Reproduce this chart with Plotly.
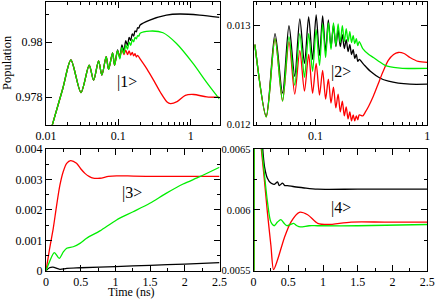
import plotly.graph_objects as go
import math

# ---------------- data: |1> (top-left, log time) ----------------
tl_black_t = [0.01, 0.017, 0.0221, 0.0304, 0.0395, 0.0455, 0.0533, 0.0592, 0.0679, 0.0733, 0.0832, 0.0887,
              0.0975, 0.1048, 0.112, 0.1193, 0.1265, 0.1338, 0.141, 0.1483, 0.1555, 0.1628, 0.170, 0.1773,
              0.1845, 0.1918, 0.2, 0.272, 0.462, 0.705, 1.33, 2.5]
tl_black_v = [0.9762, 0.9783, 0.97935, 0.97817, 0.97916, 0.97862, 0.97932, 0.9788, 0.97947, 0.97901, 0.97961, 0.97916,
              0.97972, 0.97944, 0.9799, 0.97967, 0.98005, 0.97988, 0.98017, 0.98006, 0.9803, 0.98022, 0.98041, 0.98037,
              0.98052, 0.98051, 0.98062, 0.9808, 0.98098, 0.98102, 0.98098, 0.9809]

tl_green_t = [0.01, 0.017, 0.0221, 0.0304, 0.0395, 0.0455, 0.0533, 0.0592, 0.0679, 0.0733, 0.0832, 0.0887,
              0.0975, 0.1048, 0.112, 0.1193, 0.1265, 0.1338, 0.141, 0.1483, 0.1555, 0.1628, 0.170, 0.1773,
              0.1845, 0.1918, 0.2, 0.272, 0.415, 0.636, 1.077, 1.64, 2.5]
tl_green_v = [0.9762, 0.9783, 0.97935, 0.97817, 0.97916, 0.97862, 0.97932, 0.9788, 0.97947, 0.97901, 0.97961, 0.97916,
              0.97969, 0.97939, 0.97981, 0.97958, 0.9799, 0.97975, 0.98, 0.97988, 0.98009, 0.98001, 0.98017, 0.98012,
              0.98023, 0.98022, 0.98032, 0.9804, 0.98034, 0.97995, 0.97923, 0.97856, 0.97793]

tl_red_t = [0.01, 0.017, 0.0221, 0.0304, 0.0395, 0.0455, 0.0533, 0.0592, 0.0679, 0.0733, 0.0832, 0.0887,
            0.0975, 0.1048, 0.112, 0.1193, 0.1265, 0.1338, 0.141, 0.1483, 0.1555, 0.1628, 0.170, 0.1773,
            0.1845, 0.202, 0.249, 0.308, 0.381, 0.471, 0.524, 0.647, 0.843, 1.1, 1.67, 2.5]
tl_red_v = [0.9762, 0.9783, 0.97935, 0.97817, 0.97916, 0.97862, 0.97932, 0.9788, 0.97947, 0.97901, 0.97961, 0.97916,
            0.97968, 0.97948, 0.97972, 0.97955, 0.97971, 0.97955, 0.97968, 0.97953, 0.97963, 0.9795, 0.97958, 0.97946,
            0.97952, 0.97937, 0.97902, 0.97861, 0.97818, 0.97783, 0.97777, 0.97784, 0.97807, 0.9781, 0.97801, 0.978]

# ---------------- data: |2> (top-right, log time) ----------------
tr_osc_t = [0.0288, 0.0364, 0.0436, 0.0509, 0.0581, 0.0654, 0.0726, 0.0799, 0.0871, 0.0944, 0.1016, 0.1089,
            0.1161, 0.1234, 0.1306, 0.1379, 0.1451, 0.1524, 0.1596, 0.1669, 0.1741, 0.1814, 0.1886, 0.1959,
            0.2031, 0.2104, 0.2176, 0.2249, 0.2321, 0.2394, 0.2466]

tr_black_t = tr_osc_t + [0.27, 0.31, 0.38, 0.45, 0.55, 0.7, 1.0]
tr_black_v = [0.01281, 0.01209, 0.01292, 0.01232, 0.0130, 0.01249, 0.01307, 0.01262, 0.01309, 0.01266, 0.01311, 0.0127,
              0.0131, 0.01274, 0.01306, 0.01278, 0.01301, 0.01279, 0.01296, 0.01279, 0.01291, 0.01277, 0.01286, 0.01274,
              0.01281, 0.01271, 0.01276, 0.01267, 0.01271, 0.01264, 0.01266,
              0.01261, 0.01254, 0.01247, 0.01244, 0.01242, 0.01241, 0.01241]

tr_green_t = tr_osc_t + [0.265, 0.3, 0.33, 0.37, 0.42, 0.5, 0.6, 1.0]
tr_green_v = [0.01281, 0.01208, 0.01287, 0.01224, 0.01289, 0.0124, 0.01292, 0.01248, 0.01292, 0.01254, 0.01296, 0.0126,
              0.01302, 0.01268, 0.01303, 0.01276, 0.01303, 0.0128, 0.01302, 0.01283, 0.013, 0.01284, 0.01297, 0.01284,
              0.01294, 0.01283, 0.0129, 0.01282, 0.01287, 0.0128, 0.01284,
              0.01277, 0.01271, 0.01268, 0.01264, 0.0126, 0.01258, 0.01257, 0.01257]

tr_red_t = tr_osc_t + [0.265, 0.28, 0.3, 0.33, 0.366, 0.4, 0.448, 0.5, 0.55, 0.62, 0.7, 0.83, 1.0]
tr_red_v = [0.01281, 0.01208, 0.01287, 0.01224, 0.01284, 0.01231, 0.01275, 0.01234, 0.01271, 0.01232, 0.01262, 0.0123,
            0.01255, 0.01226, 0.01246, 0.01222, 0.01238, 0.01217, 0.01231, 0.01213, 0.01224, 0.01209, 0.01218, 0.01206,
            0.01213, 0.01204, 0.0121, 0.01204, 0.01209, 0.01205, 0.0121,
            0.01209, 0.01213, 0.01219, 0.01229, 0.01242, 0.01253, 0.01265, 0.01271, 0.01273, 0.01272, 0.01268,
            0.01264, 0.01263]

# ---------------- data: |3> (bottom-left, linear time) ----------------
bl_black_t = [0, 0.05, 0.1, 0.2, 0.3, 0.5, 1.0, 1.5, 2.0, 2.5]
bl_black_v = [0, 0.0001, 0.00012, 0.00005, 0.00008, 0.0001, 0.00014, 0.00018, 0.00022, 0.00027]

bl_red_t = [0, 0.05, 0.105, 0.15, 0.201, 0.25, 0.298, 0.355, 0.44, 0.5, 0.561, 0.62, 0.681, 0.777, 0.9,
            1.017, 1.26, 1.6, 2.0, 2.5]
bl_red_v = [0, 0.0007, 0.0014, 0.0021, 0.00282, 0.00327, 0.00353, 0.00362, 0.00353, 0.00335, 0.0032, 0.0031,
            0.00304, 0.00304, 0.0031, 0.00312, 0.00311, 0.0031, 0.0031, 0.0031]

bl_green_t = [0, 0.05, 0.12, 0.19, 0.25, 0.298, 0.393, 0.489, 0.585, 0.777, 1.017, 1.256, 1.496, 1.736,
              1.976, 2.216, 2.5]
bl_green_v = [0, 0.0003, 0.0006, 0.00041, 0.00062, 0.00074, 0.00079, 0.0009, 0.00107, 0.00131, 0.00167,
              0.00194, 0.00222, 0.00255, 0.00285, 0.00309, 0.0034]

# ---------------- data: |4> (bottom-right, linear time) ----------------
br_black_t = [0, 0.01, 0.05, 0.1, 0.12, 0.14, 0.16, 0.2, 0.25, 0.3, 0.346, 0.37, 0.418, 0.45, 0.49, 0.587,
              0.731, 0.92, 1.5, 2.5]
br_black_v = [0, 0.0075, 0.0071, 0.0067, 0.0066, 0.00645, 0.00635, 0.00626, 0.00622, 0.00621, 0.00623, 0.0062,
              0.00622, 0.0062, 0.0062, 0.00619, 0.00618, 0.00617, 0.00617, 0.00617]

br_red_t = [0, 0.01, 0.03, 0.06, 0.08, 0.154, 0.2, 0.25, 0.289, 0.346, 0.443, 0.538, 0.659, 0.779, 0.924,
            1.068, 1.404, 1.885, 2.5]
br_red_v = [0, 0.0068, 0.0072, 0.0069, 0.0067, 0.00626, 0.00598, 0.00571, 0.00551, 0.00559, 0.00577, 0.0059,
            0.00598, 0.00596, 0.00589, 0.00588, 0.0059, 0.0059, 0.0059]

br_green_t = [0, 0.01, 0.03, 0.06, 0.1, 0.154, 0.2, 0.25, 0.298, 0.345, 0.394, 0.44, 0.481, 0.53, 0.577,
              0.625, 0.674, 0.8, 0.92, 1.5, 2.5]
br_green_v = [0, 0.0068, 0.0071, 0.0068, 0.0066, 0.00631, 0.00607, 0.0059, 0.00587, 0.0059, 0.00592, 0.00589,
              0.00587, 0.00588, 0.00589, 0.00587, 0.00586, 0.00587, 0.00587, 0.00587, 0.00588]

# ---------------- tick labels ----------------
tl_xticks = [0.01, 0.1, 1]
tl_xtext = ["0.01", "0.1", "1"]
tl_yticks = [0.978, 0.98]
tl_ytext = ["0.978", "0.98"]
tr_xticks = [0.1, 1]
tr_xtext = ["0.1", "1"]
tr_yticks = [0.012, 0.013]
tr_ytext = ["0.012", "0.013"]
lin_xticks = [0, 0.5, 1, 1.5, 2, 2.5]
lin_xtext = ["0", "0.5", "1", "1.5", "2", "2.5"]
bl_yticks = [0, 0.001, 0.002, 0.003, 0.004]
bl_ytext = ["0", "0.001", "0.002", "0.003", "0.004"]
br_yticks = [0.0055, 0.006, 0.0065]
br_ytext = ["0.0055", "0.006", "0.0065"]

BLACK = "#000000"
RED = "#ff0000"
GREEN = "#00ee00"
FONT = "Liberation Serif, Times New Roman, serif"
LW = 1.3

W, H = 436, 299
def px_x(a, b):
    return [a / W, b / W]
def px_y(top, bottom):
    return [(H - bottom) / H, (H - top) / H]

fig = go.Figure()

def add(t, v, color, xa, ya):
    fig.add_trace(go.Scatter(x=t, y=v, mode="lines", xaxis=xa, yaxis=ya,
                             line=dict(color=color, width=LW, shape="spline", smoothing=0.8),
                             showlegend=False, hoverinfo="skip"))

for (t, v, c) in [(tl_black_t, tl_black_v, BLACK), (tl_red_t, tl_red_v, RED), (tl_green_t, tl_green_v, GREEN)]:
    add(t, v, c, "x", "y")
for (t, v, c) in [(tr_black_t, tr_black_v, BLACK), (tr_red_t, tr_red_v, RED), (tr_green_t, tr_green_v, GREEN)]:
    add(t, v, c, "x2", "y2")
for (t, v, c) in [(bl_black_t, bl_black_v, BLACK), (bl_red_t, bl_red_v, RED), (bl_green_t, bl_green_v, GREEN)]:
    add(t, v, c, "x3", "y3")
for (t, v, c) in [(br_black_t, br_black_v, BLACK), (br_red_t, br_red_v, RED), (br_green_t, br_green_v, GREEN)]:
    add(t, v, c, "x4", "y4")

def axis(domain, rng, tickvals, ticktext, minor_vals, anchor, typ="linear", fsize=12):
    return dict(domain=domain, range=rng, type=typ, anchor=anchor, automargin=False,
                tickmode="array", tickvals=tickvals, ticktext=ticktext,
                ticks="inside", ticklen=6, tickwidth=1, tickcolor="black",
                showline=True, linecolor="black", linewidth=1, mirror="ticks",
                showgrid=False, zeroline=False,
                tickfont=dict(family=FONT, size=fsize, color="black"),
                minor=dict(tickmode="array", tickvals=minor_vals, ticks="inside",
                           ticklen=3, tickwidth=1, tickcolor="black", showgrid=False))

dec_minor_tl = [0.02, 0.03, 0.04, 0.05, 0.06, 0.07, 0.08, 0.09,
                0.2, 0.3, 0.4, 0.5, 0.6, 0.7, 0.8, 0.9, 2]
dec_minor_tr = [0.03, 0.04, 0.05, 0.06, 0.07, 0.08, 0.09,
                0.2, 0.3, 0.4, 0.5, 0.6, 0.7, 0.8, 0.9]

left_x = px_x(46, 219.5)
right_x = px_x(253.5, 427.3)
top_y = px_y(2, 124.8)
bot_y = px_y(149, 270.8)

fig.update_layout(
    template="none",
    width=W, height=H, margin=dict(l=0, r=0, t=0, b=0, autoexpand=False),
    paper_bgcolor="white", plot_bgcolor="white",
    xaxis=axis(left_x, [-2, math.log10(2.5)], tl_xticks, tl_xtext, dec_minor_tl, "y", "log"),
    yaxis=axis(top_y, [0.977, 0.981455], tl_yticks, tl_ytext, [0.977, 0.979, 0.981], "x"),
    xaxis2=axis(right_x, [math.log10(0.028), 0], tr_xticks, tr_xtext, dec_minor_tr, "y2", "log"),
    yaxis2=axis(top_y, [0.012, 0.01324], tr_yticks, tr_ytext, [0.0125], "x2", fsize=10.5),
    xaxis3=axis(left_x, [0, 2.5], lin_xticks, lin_xtext, [0.25, 0.75, 1.25, 1.75, 2.25], "y3"),
    yaxis3=axis(bot_y, [0, 0.004], bl_yticks, bl_ytext, [0.0005, 0.0015, 0.0025, 0.0035], "x3"),
    xaxis4=axis(right_x, [0, 2.5], lin_xticks, lin_xtext, [0.25, 0.75, 1.25, 1.75, 2.25], "y4"),
    yaxis4=axis(bot_y, [0.0055, 0.0065], br_yticks, br_ytext, [0.00575, 0.00625], "x4", fsize=10.5),
)

def ann(text, x, y, size, angle=0, xanchor="center", yanchor="middle"):
    fig.add_annotation(text=text, x=x / W, y=(H - y) / H, xref="paper", yref="paper",
                       showarrow=False, textangle=angle, xanchor=xanchor, yanchor=yanchor,
                       borderpad=0, borderwidth=0,
                       font=dict(family=FONT, size=size, color="black"))

ann("|1>", 126.7, 81.7, 16)
ann("|2>", 341, 72, 16)
ann("|3>", 131.7, 192.7, 16)
ann("|4>", 341.3, 208.3, 16)
ann("Population", 0, 63, 12.5, -90, xanchor="left")
ann("Time (ns)", 131.7, 299, 12, yanchor="bottom")

fig.write_html("out.html", config={"displayModeBar": False},
               post_script="document.body.style.margin='0';document.body.style.overflow='hidden';")
